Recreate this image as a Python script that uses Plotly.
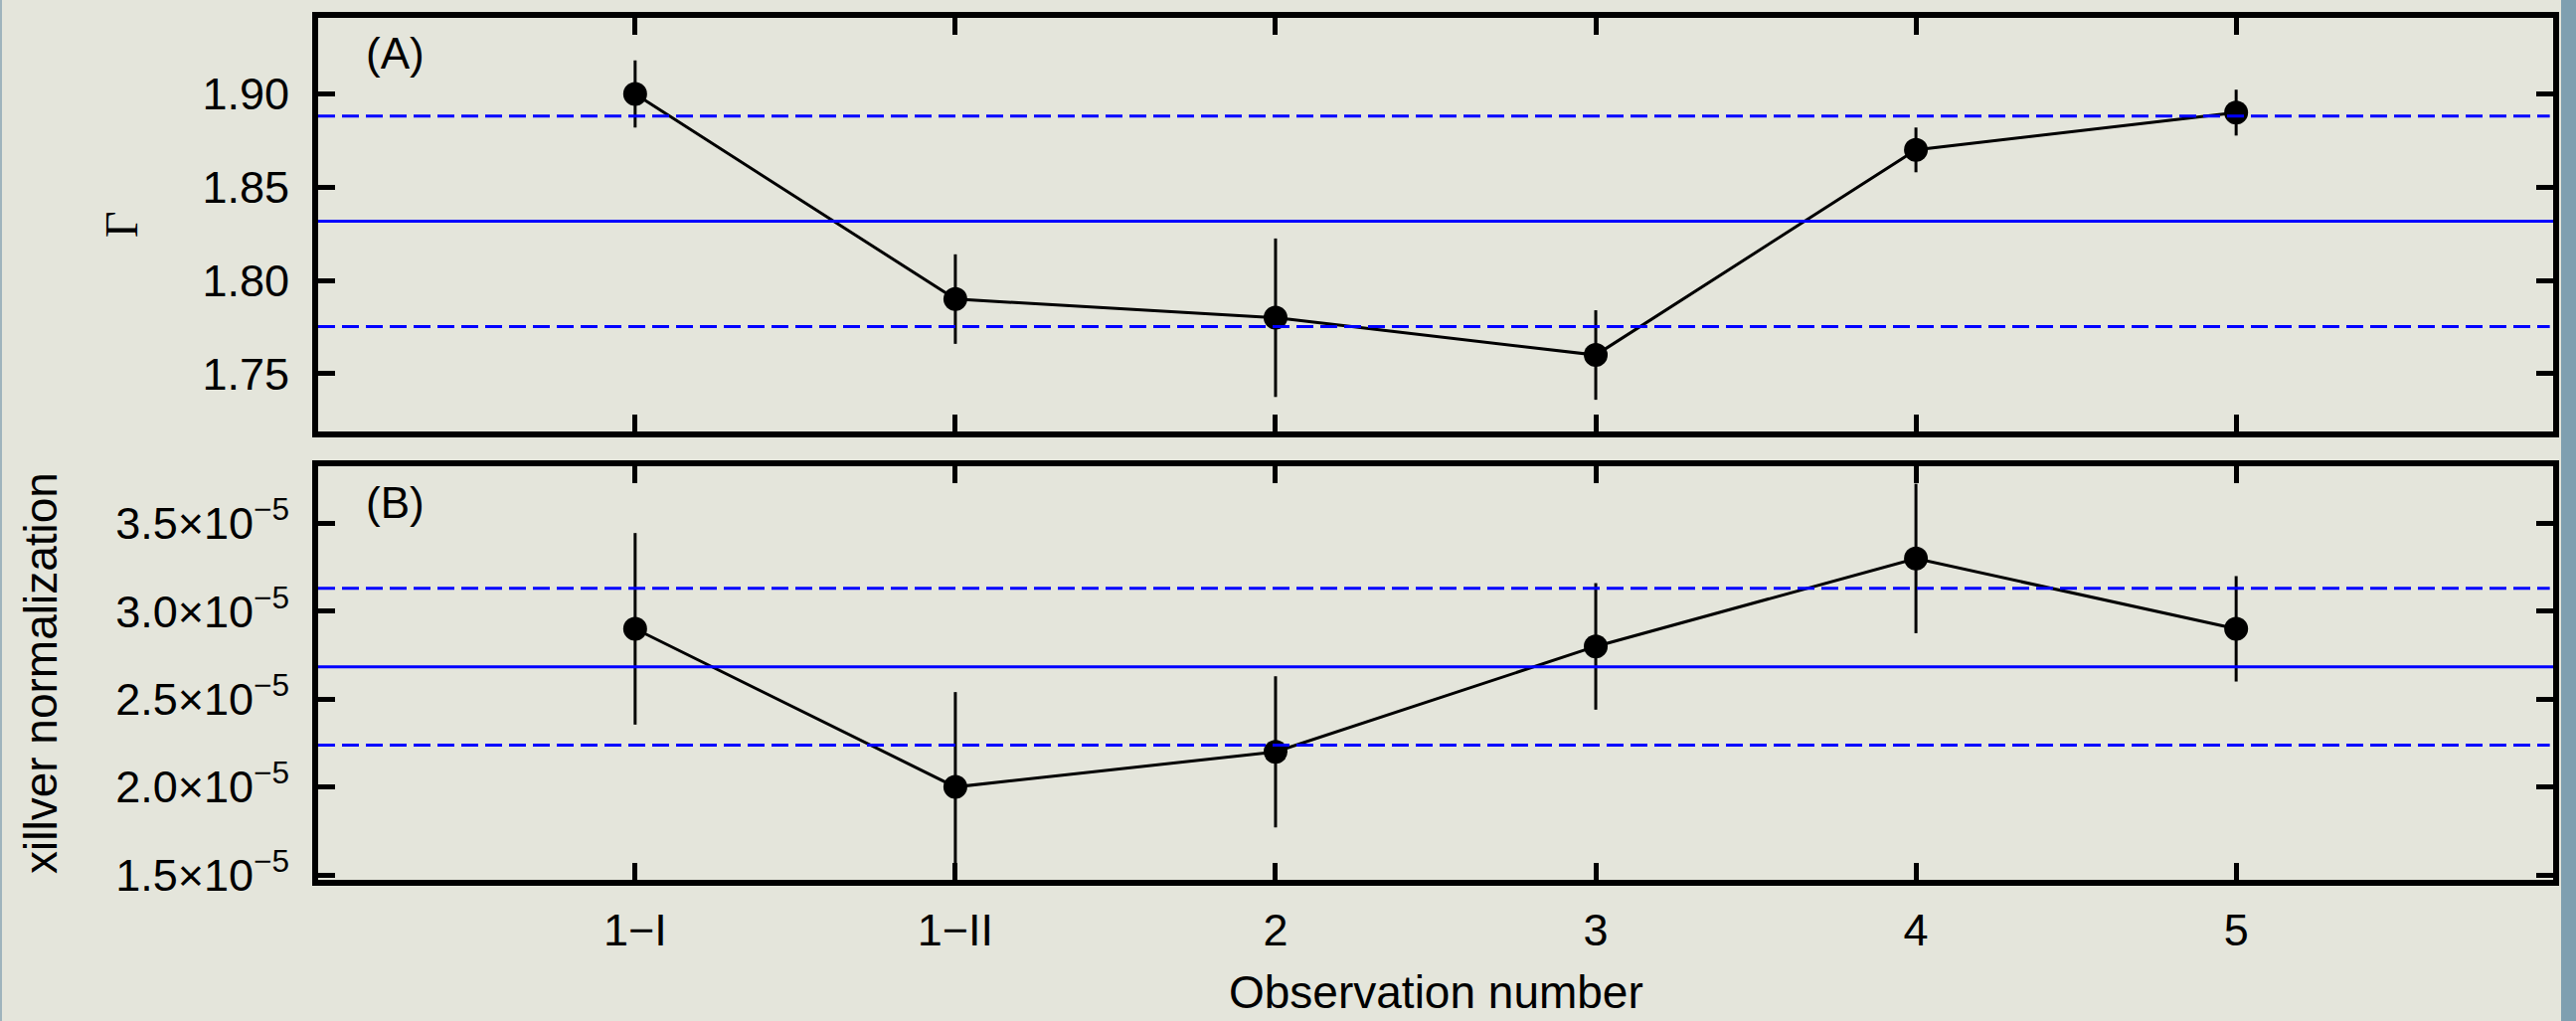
import plotly.graph_objects as go

# ---- data ----
observations = ["1\u2212I", "1\u2212II", "2", "3", "4", "5"]
gamma = [1.90, 1.79, 1.78, 1.76, 1.87, 1.89]
gamma_err = [0.018, 0.024, 0.0425, 0.024, 0.012, 0.0123]
gamma_mean = 1.8317
gamma_sd = 0.0565

xillver_norm = [2.9e-5, 2.0e-5, 2.2e-5, 2.8e-5, 3.3e-5, 2.9e-5]
xillver_err = [0.545e-5, 0.54e-5, 0.43e-5, 0.36e-5, 0.425e-5, 0.30e-5]
xillver_mean = 2.684e-5
xillver_sd = 0.446e-5

gamma_ticks = [1.75, 1.80, 1.85, 1.90]
gamma_ticktext = ["1.75", "1.80", "1.85", "1.90"]
norm_ticks = [1.5e-5, 2.0e-5, 2.5e-5, 3.0e-5, 3.5e-5]
norm_ticktext = [f"{m}\u00d710<sup>\u22125</sup>" for m in ["1.5", "2.0", "2.5", "3.0", "3.5"]]

# ---- figure geometry ----
W, H = 2591, 1027
ML, MR, MT, MB = 320, 23, 18, 142
PW = W - ML - MR
PH = H - MT - MB

BG = "#e4e5db"
FONT = "Liberation Sans, Arial, Helvetica, sans-serif"
TICKFONT = dict(family=FONT, size=45, color="black")

fig = go.Figure()

fig.add_trace(go.Scatter(
    x=observations, y=gamma, xaxis="x", yaxis="y",
    mode="lines+markers",
    line=dict(color="black", width=3),
    marker=dict(color="black", size=24),
    error_y=dict(type="data", array=gamma_err, color="black", thickness=3, width=0),
    showlegend=False, hoverinfo="skip",
))
fig.add_trace(go.Scatter(
    x=observations, y=xillver_norm, xaxis="x2", yaxis="y2",
    mode="lines+markers",
    line=dict(color="black", width=3),
    marker=dict(color="black", size=24),
    error_y=dict(type="data", array=xillver_err, color="black", thickness=3, width=0),
    showlegend=False, hoverinfo="skip",
))

# mean and +/- sd lines
for yref, m, s in [("y", gamma_mean, gamma_sd), ("y2", xillver_mean, xillver_sd)]:
    xr = "x domain" if yref == "y" else "x2 domain"
    fig.add_shape(type="line", xref=xr, yref=yref, x0=0, x1=1, y0=m, y1=m,
                  line=dict(color="#0000ff", width=3))
    for v in (m + s, m - s):
        fig.add_shape(type="line", xref=xr, yref=yref, x0=0, x1=0.9985, y0=v, y1=v,
                      line=dict(color="#0000ff", width=3, dash="17px,7px"))

# blue-grey border strips at the page edges
fig.add_shape(type="rect", xref="paper", yref="paper",
              x0=(2576 - ML) / PW, x1=(W - ML) / PW + 0.01,
              y0=-MB / PH - 0.01, y1=1 + MT / PH + 0.01,
              fillcolor="#7f9fb0", line=dict(width=0), layer="below")
fig.add_shape(type="rect", xref="paper", yref="paper",
              x0=-ML / PW - 0.01, x1=(2 - ML) / PW,
              y0=-MB / PH - 0.01, y1=1 + MT / PH + 0.01,
              fillcolor="#9fb4bd", line=dict(width=0), layer="below")

top_dom = [(885 - 434) / PH, 1.0]
bot_dom = [0.0, (885 - 469) / PH]

axis_common = dict(showline=True, linecolor="black", linewidth=6, mirror="ticks",
                   ticks="inside", ticklen=17, tickwidth=5, tickcolor="black",
                   showgrid=False, zeroline=False, tickfont=TICKFONT)

fig.update_layout(
    width=W, height=H,
    margin=dict(l=ML, r=MR, t=MT, b=MB, pad=0),
    paper_bgcolor=BG, plot_bgcolor=BG,
    xaxis=dict(domain=[0, 1], anchor="y", range=[-0.99, 5.99], type="category",
               showticklabels=False, **axis_common),
    yaxis=dict(domain=top_dom, anchor="x", range=[1.719, 1.9408],
               tickvals=gamma_ticks, ticktext=gamma_ticktext,
               ticklabelstandoff=14, **axis_common),
    xaxis2=dict(domain=[0, 1], anchor="y2", range=[-0.99, 5.99], type="category",
                ticklabelstandoff=6, **axis_common),
    yaxis2=dict(domain=bot_dom, anchor="x2", range=[1.4717e-5, 3.825e-5],
                tickvals=norm_ticks, ticktext=norm_ticktext,
                ticklabelstandoff=14, **axis_common),
)

def px_x(px):
    return (px - ML) / PW

def px_y(py):
    return (H - MB - py) / PH

annos = [
    dict(text="(A)", x=px_x(366), y=px_y(54), xanchor="left", yanchor="middle",
         font=dict(family=FONT, size=44, color="black")),
    dict(text="(B)", x=px_x(366), y=px_y(505), xanchor="left", yanchor="middle",
         font=dict(family=FONT, size=44, color="black")),
    dict(text="\u0393", x=px_x(122), y=px_y(226), xanchor="center", yanchor="middle",
         textangle=-90, font=dict(family="Liberation Serif, Times New Roman, serif", size=46, color="black")),
    dict(text="xillver normalization", x=px_x(41), y=px_y(677), xanchor="center", yanchor="middle",
         textangle=-90, font=dict(family=FONT, size=46, color="black")),
    dict(text="Observation number", x=px_x(1444), y=px_y(998), xanchor="center", yanchor="middle",
         font=dict(family=FONT, size=46, color="black")),
]
for a in annos:
    fig.add_annotation(xref="paper", yref="paper", showarrow=False, **a)

fig.write_html(
    "out.html",
    config={"displayModeBar": False},
    post_script="document.body.style.margin='0';document.body.style.overflow='hidden';",
)
